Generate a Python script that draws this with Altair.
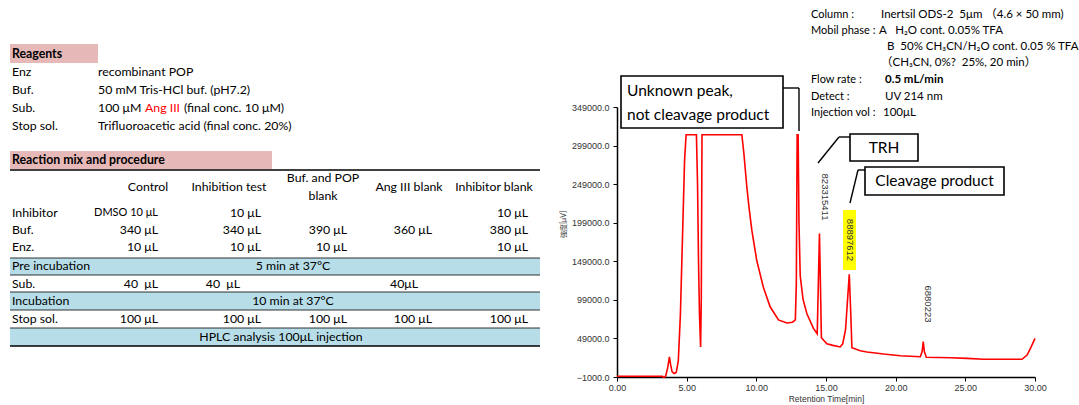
import altair as alt
import pandas as pd

# ---------------- chromatogram: retention time [min] vs detector signal ----------------
rt_min = [0.00, 3.25, 3.38, 3.50, 3.65, 3.76, 3.85, 3.95, 4.10, 4.25, 4.40, 4.55, 4.70, 4.85,
          4.96, 5.70, 5.78, 5.85, 5.92, 6.00, 6.05, 6.10, 8.96, 9.10, 9.32, 9.50, 9.68, 10.03,
          10.51, 10.99, 11.59, 12.19, 12.60, 12.80, 12.87, 12.93, 13.00, 13.06, 13.15, 13.35,
          13.63, 14.10, 14.37, 14.45, 14.53, 14.60, 14.67, 15.06, 15.50, 16.02, 16.20, 16.40,
          16.55, 16.67, 16.78, 16.86, 17.46, 17.94, 19.13, 20.33, 21.77, 21.90, 21.98, 22.06,
          22.20, 23.92, 25.12, 26.31, 29.07, 29.43, 29.70, 30.00]
signal = [0, 0, -1500, 500, 12000, 25000, 15000, 6000, 3500, 5000, 20000, 80000, 180000, 280000,
          313000, 313000, 250000, 150000, 80000, 38000, 100000, 313000, 313000, 290000, 245000,
          215000, 189000, 150000, 115000, 90000, 73000, 69000, 70000, 73000, 120000, 313000,
          313000, 200000, 130000, 100000, 81000, 62000, 55000, 120000, 185000, 120000, 50000,
          42000, 40000, 38000, 42000, 60000, 100000, 132000, 80000, 37000, 33000, 31500, 28800,
          26600, 25300, 32000, 45000, 32000, 24500, 24000, 23200, 22000, 22000, 27500, 37000,
          49000]

y_ticks = [-1000, 49000, 99000, 149000, 199000, 249000, 299000, 349000]
x_ticks = [0, 5, 10, 15, 20, 25, 30]

# peak annotations printed along the trace
peak_values = ["823315411", "88897612", "6880223"]

# ---------------- reagent list ----------------
reagent_names = ["Enz", "Buf.", "Sub.", "Stop sol."]
reagent_desc = ["recombinant POP", "50 mM Tris-HCl buf. (pH7.2)", None,
                "Trifluoroacetic acid (final conc. 20%)"]
substrate_parts = ["100 μM", "Ang III", "(final conc. 10 μM)"]

# ---------------- reaction mix table ----------------
mix_columns = ["Control", "Inhibition test", "Buf. and POP|blank", "Ang III blank", "Inhibitor blank"]
mix_rows = ["Inhibitor", "Buf.", "Enz."]
mix_values = [
    ["DMSO 10 μL", "10 μL", "", "", "10 μL"],
    ["340 μL", "340 μL", "390 μL", "360 μL", "380 μL"],
    ["10 μL", "10 μL", "10 μL", "", "10 μL"],
]
pre_incubation = "5 min at 37°C"
substrate_added = ["40\u00a0\u00a0μL", "40\u00a0\u00a0μL", "40μL"]
incubation = "10 min at 37°C"
stop_added = ["100 μL", "100 μL", "100 μL", "100 μL", "100 μL"]
analysis = "HPLC analysis 100μL injection"

# ---------------- HPLC conditions ----------------
cond_keys = ["Column :", "Mobil phase :", "", "", "Flow rate :", "Detect :", "Injection vol :"]
cond_vals = ["Inertsil ODS-2\u00a0\u00a05μm （4.6 × 50 mm)",
             "A\u00a0\u00a0\u00a0H₂O cont. 0.05% TFA",
             "B\u00a0\u00a050% CH₃CN/H₂O cont. 0.05 % TFA",
             "（CH₃CN, 0%?\u00a0\u00a025%, 20 min）",
             "0.5 mL/min", "UV 214 nm", "100μL"]

# ---------------- layout (page pixels) ----------------
OX, OY = 617, 107          # top-left of the chromatogram plot area
PW, PH = 418, 270          # plot area size
FONT = "Lato, Noto Sans CJK JP, sans-serif"
FS = 12.3                  # body text size
FS_COND = 11.5             # HPLC condition block
PINK = "#E6B8B7"
BLUE = "#B7DEE8"


def T(x, y, text, size=FS, color="black"):
    return {"x": x - OX, "y": y - OY, "text": text, "size": size, "color": color}


def text_layer(rows, align="left", weight="normal", angle=0, font=FONT):
    return alt.Chart(pd.DataFrame(rows)).mark_text(
        align=align, baseline="middle", fontWeight=weight, angle=angle, font=font
    ).encode(
        x=alt.X("x:Q", scale=None, axis=None),
        y=alt.Y("y:Q", scale=None, axis=None),
        text="text:N",
        size=alt.Size("size:Q", scale=None, legend=None),
        color=alt.Color("color:N", scale=None, legend=None),
    )


def rect_layer(rows, stroke=None, stroke_width=0):
    df = pd.DataFrame(rows)
    for c in ("x", "x2"):
        df[c] = df[c] - OX
    for c in ("y", "y2"):
        df[c] = df[c] - OY
    kw = {}
    if stroke:
        kw = {"stroke": stroke, "strokeWidth": stroke_width}
    return alt.Chart(df).mark_rect(**kw).encode(
        x=alt.X("x:Q", scale=None, axis=None), x2="x2:Q",
        y=alt.Y("y:Q", scale=None, axis=None), y2="y2:Q",
        color=alt.Color("fill:N", scale=None, legend=None),
    )


def rule_layer(segs, width):
    df = pd.DataFrame(segs, columns=["x", "y", "x2", "y2"])
    df[["x", "x2"]] -= OX
    df[["y", "y2"]] -= OY
    return alt.Chart(df).mark_rule(color="black", strokeWidth=width).encode(
        x=alt.X("x:Q", scale=None, axis=None), x2="x2:Q",
        y=alt.Y("y:Q", scale=None, axis=None), y2="y2:Q",
    )


# ---- chromatogram trace ----
trace = alt.Chart(pd.DataFrame({"rt": rt_min, "sig": signal})).mark_line(
    color="#FF0000", strokeWidth=1.6
).encode(
    x=alt.X("rt:Q", scale=alt.Scale(domain=[0, 30], nice=False, zero=False),
            axis=alt.Axis(values=x_ticks, format=".2f", title="Retention Time[min]",
                          grid=False, labelFont="Liberation Sans", labelFontSize=9,
                          labelColor="#333333", titleFont="Liberation Sans", titleFontSize=8.5,
                          titleFontWeight="normal", titleColor="#333333", titlePadding=2,
                          labelPadding=2, tickSize=4, tickColor="black", domainColor="black",
                          domainWidth=1.5, labelFlush=False)),
    y=alt.Y("sig:Q", scale=alt.Scale(domain=[-1000, 349000], nice=False, zero=False),
            axis=alt.Axis(values=y_ticks, format=".1f", title="強度[μV]", grid=False,
                          labelFont="Liberation Sans", labelFontSize=9, labelColor="#333333",
                          titleFont=FONT, titleFontSize=7, titleFontWeight="normal",
                          titleColor="#333333", titleX=566 - OX, titleY=224 - OY,
                          labelPadding=4, tickSize=4, tickColor="black", domainColor="black",
                          domainWidth=1.5)),
)

# ---- highlighted peak annotation, boxes and leaders ----
highlight = rect_layer([{"x": 843, "x2": 856, "y": 210, "y2": 270, "fill": "#FFFF00"}])
boxes = rect_layer([
    {"x": 621, "x2": 783, "y": 76, "y2": 128, "fill": "white"},
    {"x": 850, "x2": 918, "y": 134, "y2": 161, "fill": "white"},
    {"x": 865, "x2": 1004, "y": 167, "y2": 195, "fill": "white"},
], stroke="black", stroke_width=1.6)
leaders = rule_layer([
    (783, 88, 799, 88), (799, 88, 799, 131),
    (850, 137, 839, 137), (839, 137, 818, 163),
    (865, 170, 858, 170), (858, 170, 850, 203),
], 1.4)
box_text = text_layer([T(627, 91, "Unknown peak,", 15.5), T(627, 115, "not cleavage product", 15.5)])
box_text_c = text_layer([T(884, 148, "TRH", 15.5), T(934.5, 181, "Cleavage product", 15.5)],
                        align="center")
peak_text = text_layer([
    T(825, 197, peak_values[0], 9.5, "#333333"),
    T(850, 240, peak_values[1], 9.5, "#333333"),
    T(928, 304, peak_values[2], 9.5, "#333333"),
], align="center", angle=90, font="Liberation Sans")

# ---- HPLC condition block ----
cond_y = [15, 31, 47, 63, 80, 97, 113]
cond_x = [881, 879, 887, 881, 885, 885, 883]
cond_key_rows = [T(811, y, k, 11) for k, y in zip(cond_keys, cond_y) if k]
cond_val_rows = [T(x, y, v, FS_COND) for v, x, y in zip(cond_vals, cond_x, cond_y)
                 if v != "0.5 mL/min"]
cond_bold = [T(885, 80, "0.5 mL/min", FS_COND)]

# ---- reagent block ----
reag_y = [72, 90, 108, 126]
reag_rows = [T(12, y, n) for n, y in zip(reagent_names, reag_y)]
reag_rows += [T(98, y, d) for d, y in zip(reagent_desc, reag_y) if d]
reag_rows += [T(98, reag_y[2], substrate_parts[0]), T(184, reag_y[2], substrate_parts[2])]
reag_rows += [T(145, reag_y[2], substrate_parts[1], FS, "#FF0000")]

# ---- reaction mix table ----
col_center = [148, 229, 323, 409, 494]
col_right = [158, 261, 347, 432, 528]
row_y = [213, 230, 247]
header_rows = []
for name, cx in zip(mix_columns, col_center):
    parts = name.split("|")
    if len(parts) == 1:
        header_rows.append(T(cx, 187, parts[0]))
    else:
        header_rows.append(T(cx, 178, parts[0]))
        header_rows.append(T(cx, 196, parts[1]))

cell_rows = []
for vals, y in zip(mix_values, row_y):
    for v, rx in zip(vals, col_right):
        if v:
            cell_rows.append(T(rx, y, v, 11 if v.startswith("DMSO") else FS))
for v, rx in zip(substrate_added, [158, 240, 418]):
    cell_rows.append(T(rx, 284, v))
for v, rx in zip(stop_added, col_right):
    cell_rows.append(T(rx, 319, v))

row_label_rows = [T(12, y, n) for n, y in zip(mix_rows, row_y)]
row_label_rows += [T(12, 266, "Pre incubation"), T(12, 284, "Sub."),
                   T(12, 301, "Incubation"), T(12, 319, "Stop sol.")]
band_text = [T(293, 266, pre_incubation), T(293, 301, incubation), T(281, 337, analysis)]
bold_rows = [T(12, 54, "Reagents"), T(12, 160, "Reaction mix and procedure")]

bands = rect_layer([
    {"x": 10, "x2": 98, "y": 44, "y2": 63, "fill": PINK},
    {"x": 10, "x2": 272, "y": 151, "y2": 169, "fill": PINK},
    {"x": 10, "x2": 540, "y": 258, "y2": 275, "fill": BLUE},
    {"x": 10, "x2": 540, "y": 292, "y2": 310, "fill": BLUE},
    {"x": 10, "x2": 540, "y": 328, "y2": 346, "fill": BLUE},
])
thin_lines = rule_layer([(10, y, 540, y) for y in (258, 275, 292, 310, 328)], 0.8)
thick_lines = rule_layer([(10, 170, 540, 170), (10, 346, 540, 346)], 1.6)

chart = alt.layer(
    bands, thin_lines, thick_lines, trace, highlight, leaders, boxes,
    box_text, box_text_c, peak_text,
    text_layer(cond_key_rows), text_layer(cond_val_rows),
    text_layer(cond_bold, weight="bold"),
    text_layer(bold_rows, weight="bold"),
    text_layer(reag_rows), text_layer(header_rows, align="center"),
    text_layer(cell_rows, align="right"), text_layer(row_label_rows),
    text_layer(band_text, align="center"),
).resolve_scale(
    x="independent", y="independent", color="independent", size="independent"
).properties(
    width=PW, height=PH,
    padding={"left": OX, "top": OY, "right": 1079 - OX - PW, "bottom": 405 - OY - PH},
    autosize=alt.AutoSizeParams(type="none"),
    background="white",
).configure_view(stroke=None)

chart.save("out.html", embed_options={"renderer": "svg", "actions": False})
